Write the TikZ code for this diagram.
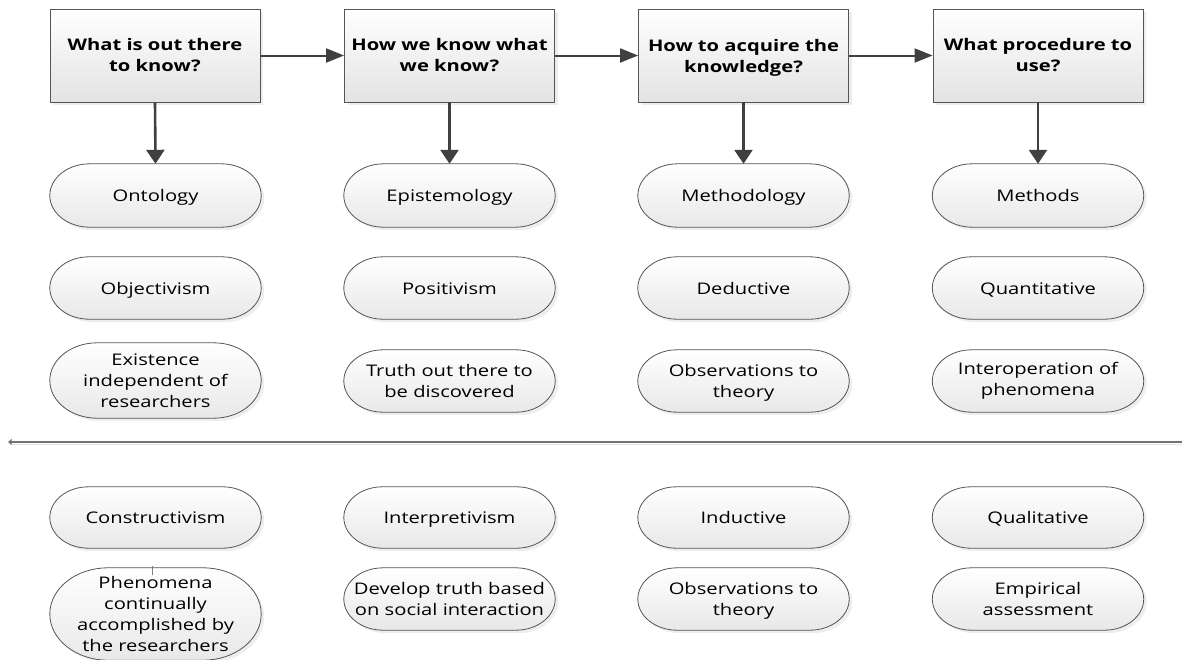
\documentclass[tikz,border=0pt]{standalone}
\usepackage{amsmath}
\usepackage{fontspec}
\setmainfont{Open Sans}[FakeStretch=1.26]
\usetikzlibrary{arrows.meta,shadows,calc}
\pgfdeclarelayer{background}
\pgfsetlayers{background,main}
\definecolor{edge}{HTML}{555555}
\definecolor{arrowc}{HTML}{404040}
\tikzset{
  qbox/.style={draw=edge, line width=0.9pt, minimum width=210pt, minimum height=93pt,
    top color=white, bottom color=black!11, inner sep=0pt, align=center,
    font=\bfseries\fontsize{16}{21}\selectfont,
    drop shadow={shadow xshift=3pt, shadow yshift=-3pt, fill=black!14}},
  pill/.style={minimum width=211pt, minimum height=#1, inner sep=0pt, align=center,
    font=\fontsize{16}{21}\selectfont},
  one/.style={text height=12pt, text depth=0pt},
  pillpaint/.style={draw=edge, line width=0.8pt, top color=white, bottom color=black!9,
    drop shadow={shadow xshift=3pt, shadow yshift=-3pt, fill=black!13}},
  varrow/.style={draw=arrowc, line width=2.6pt, -{Triangle[length=14pt,width=18pt]}},
  harrow/.style={draw=arrowc, line width=2pt, -{Triangle[length=18pt,width=14pt]}}
}
% outline with elliptical ends around a named node
\newcommand\pillpath[1]{%
  \path[pillpaint] let \p1=(#1.north west), \p2=(#1.south east),
      \n1={(\y1-\y2)/2}, \n2={1.26*\n1}, \n3={0.5523*\n1}, \n4={0.5523*\n2} in
    (\x1+\n2,\y1) -- (\x2-\n2,\y1)
    .. controls (\x2-\n2+\n4,\y1) and (\x2,\y1-\n1+\n3) .. (\x2,\y1-\n1)
    .. controls (\x2,\y2+\n1-\n3) and (\x2-\n2+\n4,\y2) .. (\x2-\n2,\y2)
    -- (\x1+\n2,\y2)
    .. controls (\x1+\n2-\n4,\y2) and (\x1,\y2+\n1-\n3) .. (\x1,\y2+\n1)
    .. controls (\x1,\y1-\n1+\n3) and (\x1+\n2-\n4,\y1) .. (\x1+\n2,\y1) -- cycle;}
\begin{document}
\begin{tikzpicture}[x=1pt,y=-1pt]
\useasboundingbox (0,0) rectangle (1182,659);

% question boxes
\node[qbox] (q1) at (155,55.5)  {What is out there\\to know?};
\node[qbox] (q2) at (449.5,55.5) {How we know what\\we know?};
\node[qbox] (q3) at (743.5,55.5) {How to acquire the\\\smash[b]{knowledge?}};
\node[qbox] (q4) at (1038,55.5)  {What procedure to\\use?};

% first row of terms
\node[pill=63pt,one] (o1) at (155.5,195.5) {Ontology};
\node[pill=63pt,one] (o2) at (449.5,195.5) {Epistemology};
\node[pill=63pt,one] (o3) at (743.5,195.5) {Methodology};
\node[pill=63pt,one] (o4) at (1038,195.5)  {Methods};

% objective paradigm
\node[pill=62pt,one] (a1) at (155.5,288) {Objectivism};
\node[pill=62pt,one] (a2) at (449.5,288) {Positivism};
\node[pill=62pt,one] (a3) at (743.5,288) {Deductive};
\node[pill=62pt,one] (a4) at (1038,288)  {Quantitative};

\node[pill=75pt] (b1) at (155.5,380.5) {Existence\\independent of\\researchers};
\node[pill=62pt] (b2) at (449.5,381) {Truth out there to\\be discovered};
\node[pill=62pt] (b3) at (743.5,381) {Observations to\\\smash[b]{theory}};
\node[pill=62pt] (b4) at (1038,381)  {Interoperation of\\phenomena};

% separator line
\coordinate (sepR) at (1182,442);
\coordinate (sepL) at (8,442);
\draw[black!10, line width=1.4pt] ([yshift=-2.5pt]sepR) -- ([yshift=-2.5pt,xshift=3pt]sepL);
\draw[black!55, line width=1.1pt, -{Straight Barb[length=3pt,width=5pt]}] (sepR) -- (sepL);

% subjective paradigm
\node[pill=61pt,one] (c1) at (155.5,517.5) {Constructivism};
\node[pill=61pt,one] (c2) at (449.5,517.5) {Interpretivism};
\node[pill=61pt,one] (c3) at (743.5,517.5) {Inductive};
\node[pill=61pt,one] (c4) at (1038,517.5)  {Qualitative};

\node[pill=92pt] (d1) at (155.5,614) {Phenomena\\continually\\accomplished by\\the researchers};
\node[pill=62pt] (d2) at (449.5,599) {Develop truth based\\on social interaction};
\node[pill=62pt] (d3) at (743.5,599) {Observations to\\\smash[b]{theory}};
\node[pill=62pt] (d4) at (1038,599)  {Empirical\\assessment};

\begin{pgfonlayer}{background}
  \foreach \nm in {o1,o2,o3,o4,a1,a2,a3,a4,b1,b2,b3,b4,c1,c2,c3,c4,d1,d2,d3,d4}
    {\pillpath{\nm}}
\end{pgfonlayer}
\draw[black!50, line width=0.6pt] ([xshift=-3pt,yshift=2pt]d1.north) -- ++(0,9);

% connectors
\draw[harrow] (q1.east) -- (q2.west);
\draw[harrow] (q2.east) -- (q3.west);
\draw[harrow] (q3.east) -- (q4.west);
\draw[varrow] (q1.south) -- (o1.north);
\draw[varrow] (q2.south) -- (o2.north);
\draw[varrow] (q3.south) -- (o3.north);
\draw[varrow] (q4.south) -- (o4.north);
\end{tikzpicture}
\end{document}
